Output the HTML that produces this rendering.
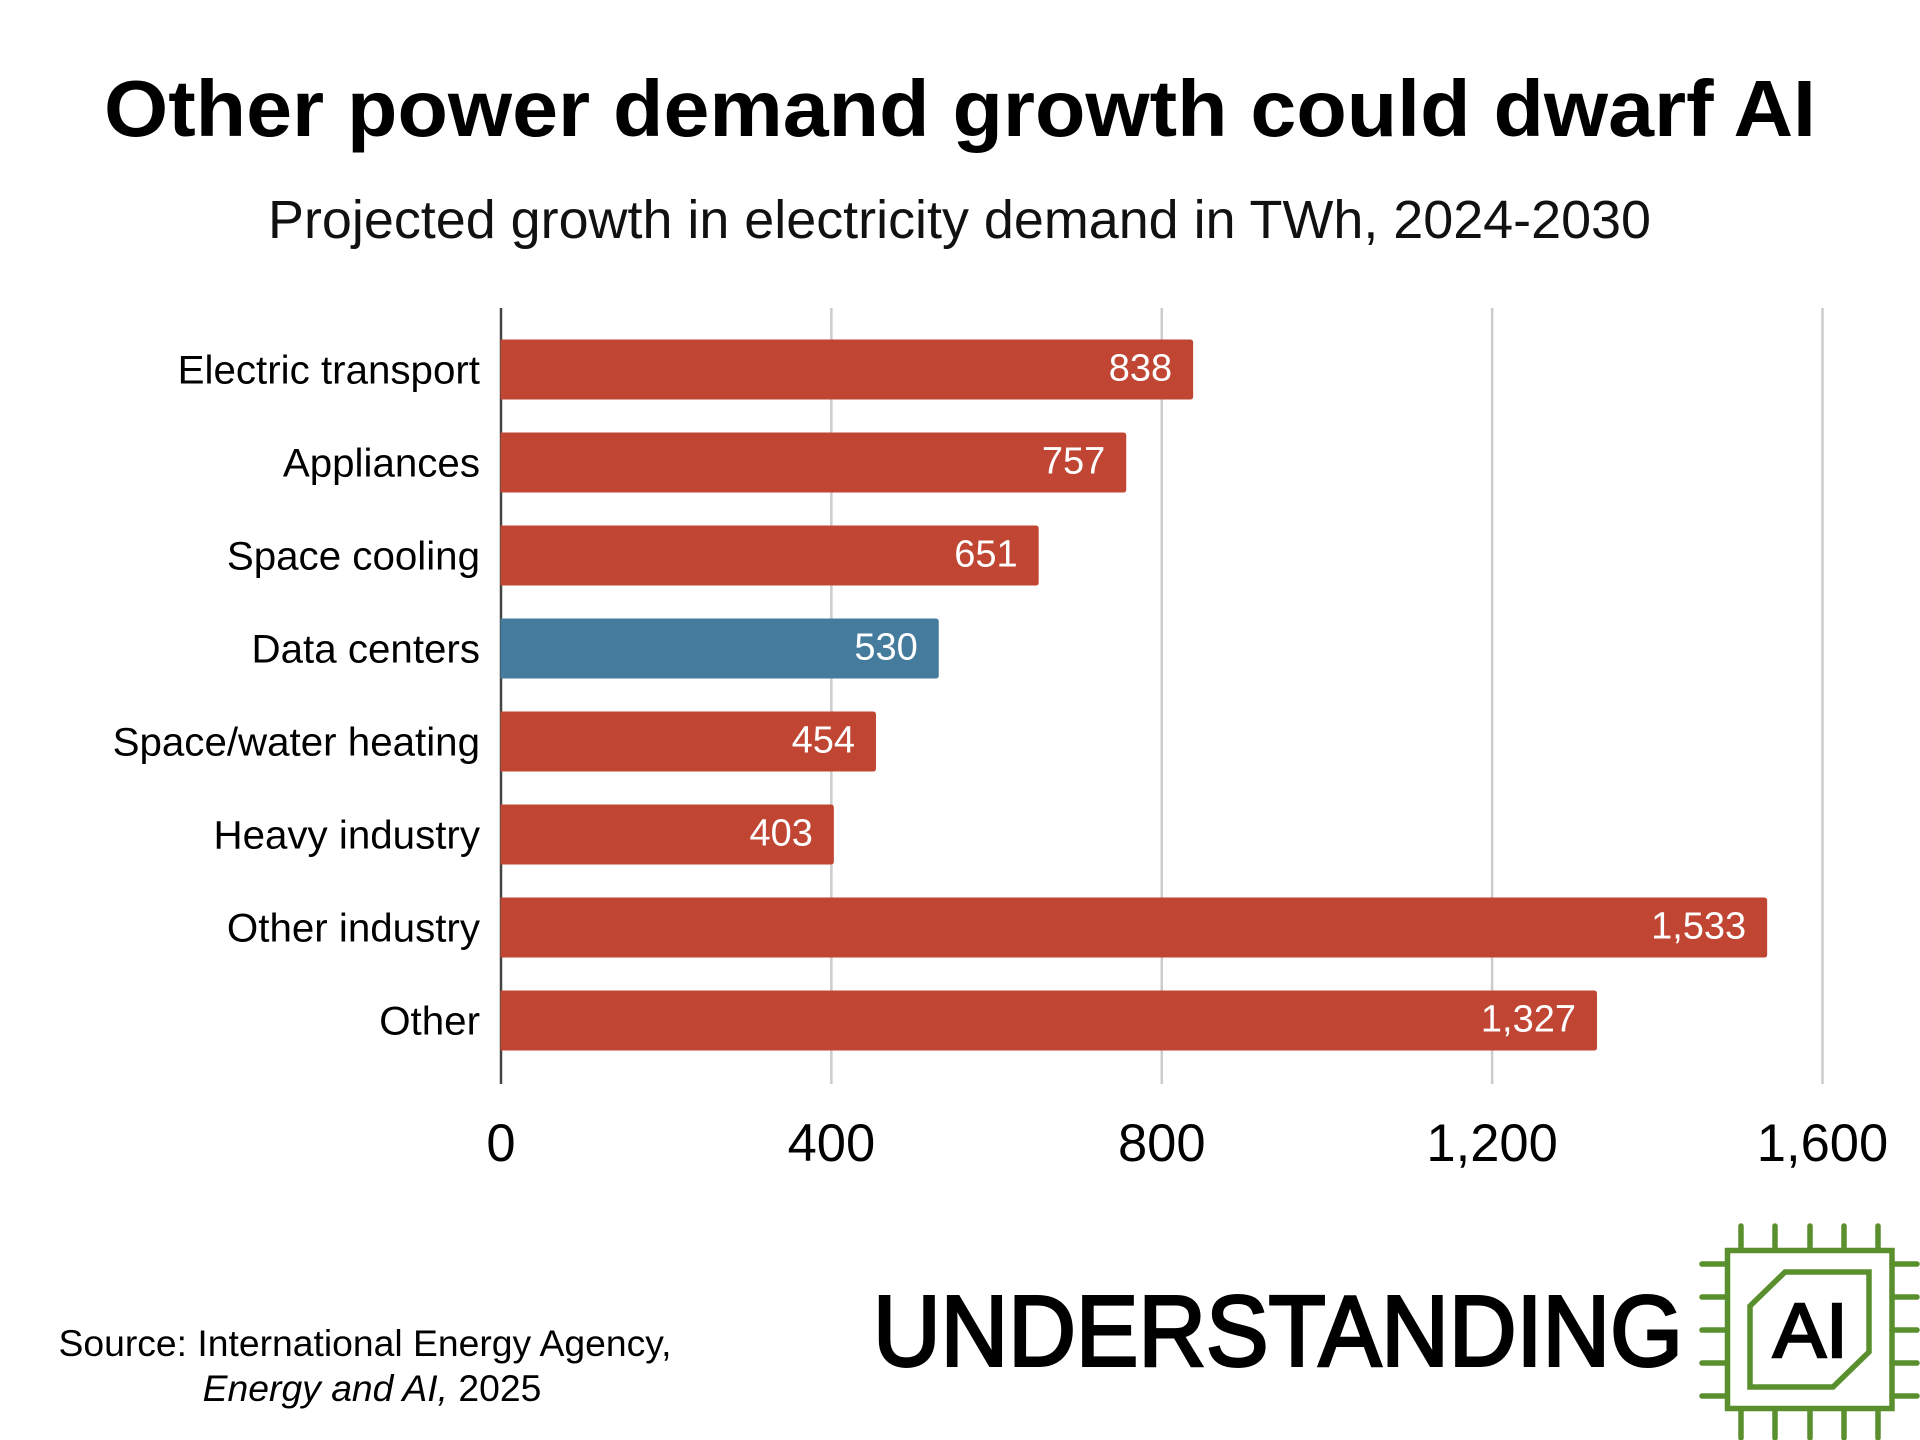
<!DOCTYPE html>
<html lang="en">
<head>
<meta charset="utf-8">
<title>Other power demand growth could dwarf AI</title>
<style>
html,body{margin:0;padding:0;background:#fff}
svg{display:block}
text{font-family:"Liberation Sans",sans-serif}
</style>
</head>
<body>
<svg id="chart" xmlns="http://www.w3.org/2000/svg" width="1920" height="1440" viewBox="0 0 1920 1440">
  <rect width="1920" height="1440" fill="#fff"/>
  <text x="104" y="136" font-size="80" font-weight="700" fill="#000" textLength="1712" lengthAdjust="spacingAndGlyphs">Other power demand growth could dwarf AI</text>
  <text x="268" y="238" font-size="54" fill="#111" textLength="1383" lengthAdjust="spacingAndGlyphs">Projected growth in electricity demand in TWh, 2024-2030</text>
  <g id="grid"></g>
  <g id="bars"></g>
  <g id="cats"></g>
  <g id="ticks"></g>
  <g font-size="37.3" fill="#000" text-anchor="middle">
    <text x="365" y="1356">Source: International Energy Agency,</text>
    <text x="372" y="1401"><tspan font-style="italic">Energy and AI,</tspan> 2025</text>
  </g>
  <g>
    <text x="873" y="1365.5" font-size="100" fill="#000" stroke="#000" stroke-width="3" textLength="810" lengthAdjust="spacingAndGlyphs">UNDERSTANDING</text>
    <g fill="none" stroke="#5a8f2e" stroke-width="5.5" stroke-linecap="round">
      <rect x="1727.5" y="1250.5" width="164.5" height="158" stroke-linecap="butt"/>
      <polygon points="1785,1272 1869,1272 1869,1352 1833,1387 1750,1387 1750,1306"/>
      <path d="M1741 1226V1250M1775 1226V1250M1810 1226V1250M1844 1226V1250M1878 1226V1250M1741 1409V1438M1775 1409V1438M1810 1409V1438M1844 1409V1438M1878 1409V1438M1702 1264H1727M1702 1297H1727M1702 1330H1727M1702 1363H1727M1702 1396H1727M1892 1264H1917M1892 1297H1917M1892 1330H1917M1892 1363H1917M1892 1396H1917"/>
    </g>
    <text x="1773" y="1357" font-size="77" fill="#000" stroke="#000" stroke-width="2.5" textLength="75" lengthAdjust="spacingAndGlyphs">AI</text>
  </g>
</svg>
<script>
const categories = ["Electric transport", "Appliances", "Space cooling", "Data centers", "Space/water heating", "Heavy industry", "Other industry", "Other"];
const demandGrowth = [838, 757, 651, 530, 454, 403, 1533, 1327];
const highlighted = ["Data centers"];
const xTicks = [0, 400, 800, 1200, 1600];

const NS = "http://www.w3.org/2000/svg";
const fmt = v => v.toLocaleString("en-US");
const xScale = v => 501 + v * (1822.5 - 501) / 1600;
const bandTop = i => 339.5 + i * 93;
const BAR_H = 60;

function make(tag, parent, attrs, text) {
  const el = document.createElementNS(NS, tag);
  for (const k in attrs) el.setAttribute(k, attrs[k]);
  if (text !== undefined) el.textContent = text;
  parent.appendChild(el);
  return el;
}

const gridG = document.getElementById("grid");
const tickG = document.getElementById("ticks");
xTicks.forEach(t => {
  const x = xScale(t);
  const line = make("line", gridG, {x1: x, x2: x, y1: 308, y2: 1084, stroke: t === 0 ? "#444" : "#ccc", "stroke-width": 2.5});
  
  
  const label = make("text", tickG, {x: x, y: 1161, "font-size": 52.5, "text-anchor": "middle", fill: "#000"}, fmt(t));
  
  
});

const barG = document.getElementById("bars");
const catG = document.getElementById("cats");
categories.forEach((c, i) => {
  const y = bandTop(i);
  const x0 = xScale(0) - 0.5;
  const x1 = xScale(demandGrowth[i]);
  const r = 3;
  const fill = highlighted.includes(c) ? "#457b9d" : "#c04532";
  const bar = make("path", barG, {d: `M${x0} ${y}H${x1 - r}Q${x1} ${y} ${x1} ${y + r}V${y + BAR_H - r}Q${x1} ${y + BAR_H} ${x1 - r} ${y + BAR_H}H${x0}Z`, fill: fill});
  
  
  const val = make("text", barG, {x: x1 - 21, y: y + 41, "font-size": 38, "text-anchor": "end", fill: "#fff"}, fmt(demandGrowth[i]));
  
  
  const lab = make("text", catG, {x: 480, y: y + 44, "font-size": 40.3, "text-anchor": "end", fill: "#000"}, c);
  
  
});
</script>
</body>
</html>
